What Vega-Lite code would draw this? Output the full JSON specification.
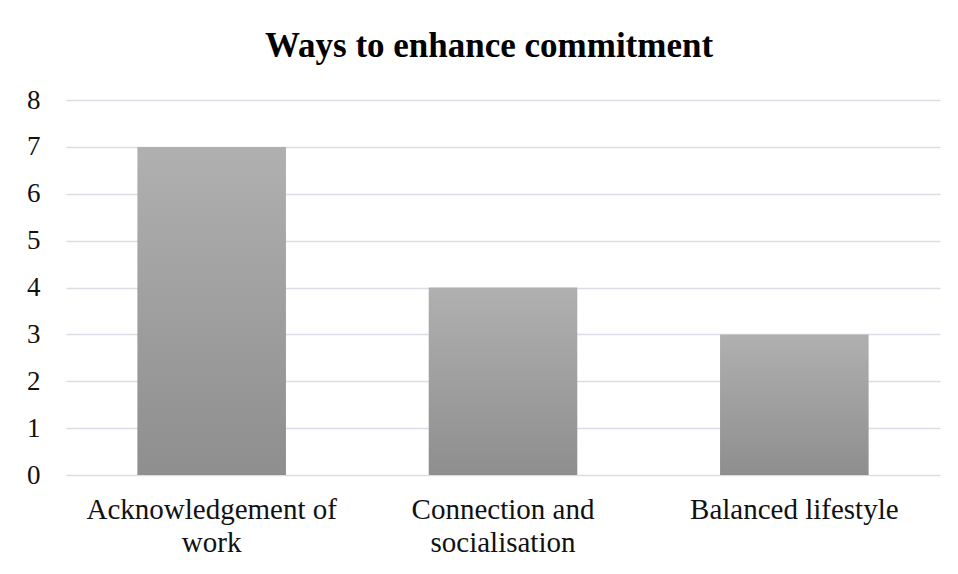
{
  "$schema": "https://vega.github.io/schema/vega-lite/v6.json",
  "width": 874,
  "height": 375,
  "autosize": "none",
  "padding": {"left": 66, "top": 100, "right": 18, "bottom": 99},
  "background": "white",
  "title": {
    "text": "Ways to enhance commitment",
    "font": "Liberation Serif",
    "fontSize": 35,
    "fontWeight": "bold",
    "color": "#000000",
    "anchor": "middle",
    "frame": "group",
    "baseline": "alphabetic",
    "offset": -6,
    "dx": -14
  },
  "data": {
    "values": [
      {"category": "Acknowledgement of work", "value": 7},
      {"category": "Connection and socialisation", "value": 4},
      {"category": "Balanced lifestyle", "value": 3}
    ]
  },
  "mark": {
    "type": "bar",
    "color": {
      "gradient": "linear",
      "x1": 0, "y1": 0, "x2": 0, "y2": 1,
      "stops": [
        {"offset": 0, "color": "#b0b0b0"},
        {"offset": 1, "color": "#8e8e8e"}
      ]
    }
  },
  "encoding": {
    "x": {
      "field": "category",
      "type": "nominal",
      "sort": null,
      "scale": {"paddingInner": 0.49, "paddingOuter": 0.245},
      "axis": {
        "title": null,
        "labelAngle": 0,
        "domain": false,
        "ticks": false,
        "labelPadding": 20,
        "labelFont": "Liberation Serif",
        "labelFontSize": 29,
        "labelColor": "#111111",
        "labelLineHeight": 33,
        "labelLimit": 0,
        "labelExpr": "datum.label == 'Acknowledgement of work' ? ['Acknowledgement of', 'work'] : datum.label == 'Connection and socialisation' ? ['Connection and', 'socialisation'] : datum.label"
      }
    },
    "y": {
      "field": "value",
      "type": "quantitative",
      "scale": {"domain": [0, 8]},
      "axis": {
        "title": null,
        "values": [0, 1, 2, 3, 4, 5, 6, 7, 8],
        "domain": false,
        "ticks": false,
        "labelPadding": 26,
        "labelFont": "Liberation Serif",
        "labelFontSize": 27,
        "labelColor": "#111111",
        "grid": true,
        "gridColor": "#dadee4",
        "gridWidth": 1.7
      }
    }
  },
  "config": {"view": {"stroke": null}}
}
